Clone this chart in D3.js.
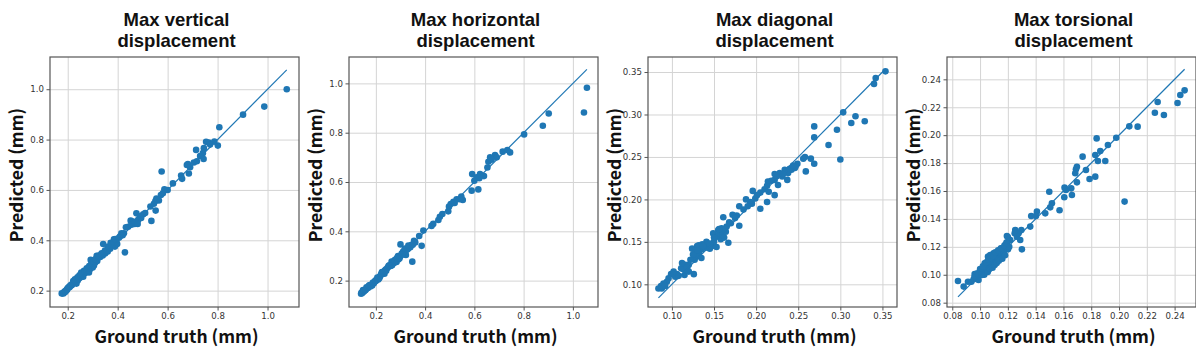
<!DOCTYPE html>
<html>
<head>
	<title>Predicted vs ground truth</title>
	<script src="https://cdn.jsdelivr.net/npm/d3@7"></script>
	<style type="text/css">
		body { margin: 0; background: white; }
		.tick text { font-family: "DejaVu Sans", sans-serif; font-size: 8.6px; fill: #333; }
		.tick line { stroke: #555; }
		.grid line { stroke: #d4d4d4; stroke-width: 1; }
		.grid path { display: none; }
		.label { font-family: "Noto Sans CJK KR", "Noto Sans", sans-serif; font-weight: bold; fill: #111; }
		.title { font-family: "Liberation Sans", Arial, sans-serif; font-weight: bold; fill: #111; }
	</style>
</head>
<body>

	<svg width=1196 height=356 class="chart"></svg>

	<script type="text/javascript">

		// panel titles (two lines each)
		titles = [
			['Max vertical', 'displacement'],
			['Max horizontal', 'displacement'],
			['Max diagonal', 'displacement'],
			['Max torsional', 'displacement']
		]

		// vertical displacement, ground truth / predicted (mm)
		vertTruth = [1.077,0.987,0.902,0.807,0.801,0.787,0.765,0.754,0.745,0.741,0.744,0.714,0.717,0.705,0.685,0.677,0.681,0.654,0.658,0.621,
			0.576,0.587,0.581,0.573,0.565,0.555,0.551,0.552,0.535,0.531,0.502,0.494,0.482,0.475,0.468,0.462,0.452,0.442,0.433,0.425,
			0.415,0.429,0.409,0.395,0.385,0.389,0.375,0.362,0.342,0.349,0.336,0.326,0.316,0.309,0.292,0.296,0.286,0.276,0.265,0.254,
			0.247,0.239,0.229,0.225,0.216,0.207,0.196,0.187,0.176,0.183,0.210,0.230,0.240,0.260,0.270,0.280,0.290,0.300,0.310,0.320,
			0.330,0.350,0.370,0.380,0.222,0.250,0.200,0.193,0.300,0.318,0.305,0.285,0.235,0.245,0.262,0.340,0.360,0.398,0.420,0.455,
			0.470,0.480,0.490,0.510,0.545,0.560,0.600,0.690,0.730,0.770,
			0.190,0.198,0.205,0.212,0.218,0.228,0.233,0.243,0.252,0.258,0.268,0.275,0.282,0.295,0.302,0.312,0.322,0.335,0.355,0.365,
			0.372,0.385,0.390,0.405]
		vertPred = [1.000,0.931,0.899,0.849,0.776,0.792,0.788,0.791,0.766,0.746,0.723,0.759,0.714,0.709,0.665,0.699,0.703,0.657,0.644,0.626,
			0.673,0.603,0.587,0.580,0.558,0.566,0.556,0.518,0.477,0.534,0.503,0.489,0.481,0.507,0.465,0.474,0.478,0.454,0.452,0.428,
			0.428,0.352,0.415,0.396,0.404,0.375,0.377,0.375,0.385,0.359,0.348,0.338,0.338,0.322,0.322,0.302,0.298,0.289,0.279,0.272,
			0.261,0.253,0.245,0.229,0.221,0.213,0.203,0.196,0.189,0.189,0.218,0.232,0.240,0.262,0.270,0.280,0.286,0.305,0.312,0.330,
			0.334,0.348,0.366,0.382,0.238,0.252,0.210,0.200,0.292,0.318,0.300,0.272,0.228,0.248,0.255,0.340,0.355,0.385,0.420,0.462,
			0.470,0.465,0.495,0.508,0.545,0.563,0.600,0.690,0.735,0.780,
			0.195,0.205,0.215,0.222,0.226,0.240,0.245,0.252,0.262,0.268,0.275,0.280,0.290,0.310,0.315,0.325,0.338,0.345,0.360,0.370,
			0.390,0.390,0.405,0.410]

		// horizontal displacement
		horizTruth = [1.057,1.045,0.902,0.878,0.802,0.745,0.734,0.715,0.684,0.691,0.664,0.657,0.653,0.639,0.623,0.609,0.591,0.589,0.616,0.553,
			0.547,0.528,0.515,0.504,0.497,0.494,0.460,0.454,0.433,0.426,0.393,0.386,0.376,0.355,0.348,0.345,0.336,0.300,0.325,0.311,
			0.322,0.298,0.291,0.284,0.264,0.260,0.246,0.237,0.230,0.216,0.203,0.192,0.176,0.162,0.148,0.140,0.145,0.150,0.155,0.160,
			0.165,0.170,0.180,0.185,0.195,0.210,0.220,0.225,0.235,0.240,0.250,0.270,0.280,0.290,0.305,0.315,0.330,0.340,0.360,0.600,
			0.620,0.670,0.540,0.520,0.470,0.142,0.152,0.158,0.168,0.175,0.200,0.232,0.255,0.275,
			0.172,0.178,0.188,0.198,0.206,0.214,0.222,0.232,0.242,0.252,0.266,0.276,0.286,0.296,0.308,0.318,0.332,0.350]
		horizPred = [0.982,0.882,0.878,0.828,0.793,0.720,0.730,0.723,0.709,0.700,0.700,0.682,0.659,0.624,0.632,0.619,0.632,0.565,0.570,0.527,
			0.541,0.530,0.520,0.511,0.500,0.481,0.459,0.446,0.430,0.422,0.403,0.341,0.381,0.362,0.277,0.345,0.335,0.347,0.324,0.318,
			0.304,0.297,0.286,0.276,0.277,0.259,0.250,0.241,0.230,0.216,0.203,0.189,0.182,0.173,0.162,0.147,0.150,0.155,0.160,0.165,
			0.170,0.175,0.182,0.180,0.195,0.205,0.222,0.235,0.228,0.245,0.255,0.270,0.285,0.300,0.310,0.320,0.328,0.335,0.355,0.605,
			0.615,0.690,0.530,0.515,0.470,0.152,0.158,0.162,0.170,0.178,0.198,0.236,0.262,0.272,
			0.180,0.176,0.192,0.200,0.212,0.210,0.228,0.236,0.240,0.260,0.262,0.282,0.292,0.290,0.305,0.330,0.342,0.345]

		// diagonal displacement
		diagTruth = [0.3536,0.342,0.340,0.3034,0.318,0.313,0.329,0.296,0.300,0.269,0.269,0.286,0.269,0.265,0.258,0.256,0.259,0.249,0.246,0.247,
			0.242,0.238,0.234,0.237,0.231,0.228,0.224,0.222,0.222,0.222,0.226,0.214,0.213,0.215,0.213,0.205,0.205,0.201,0.196,0.199,
			0.195,0.193,0.188,0.185,0.180,0.177,0.172,0.180,0.168,0.167,0.165,0.161,0.159,0.157,0.155,0.153,0.149,0.162,0.158,0.148,
			0.141,0.136,0.132,0.130,0.135,0.132,0.130,0.135,0.127,0.126,0.122,0.120,0.116,0.115,0.118,0.113,0.111,0.106,0.104,0.099,
			0.096,0.094,0.090,0.087,0.084,0.088,0.092,0.124,0.128,0.153,0.102,0.140,0.145,0.150,0.155,0.160,0.163,0.170,0.175,0.190,
			0.210,0.218,0.232,0.240,0.244,
			0.112,0.118,0.125,0.130,0.137,0.145,0.150,0.156,0.160,0.164,0.120,0.108]
		diagPred = [0.3508,0.343,0.336,0.3025,0.298,0.290,0.292,0.282,0.247,0.286,0.273,0.264,0.242,0.248,0.250,0.248,0.233,0.242,0.237,0.239,
			0.235,0.231,0.235,0.223,0.227,0.231,0.227,0.230,0.223,0.205,0.217,0.221,0.216,0.209,0.197,0.208,0.189,0.205,0.210,0.201,
			0.195,0.197,0.200,0.188,0.192,0.181,0.182,0.169,0.173,0.149,0.168,0.179,0.166,0.160,0.164,0.156,0.160,0.155,0.153,0.145,
			0.150,0.147,0.146,0.145,0.141,0.137,0.133,0.131,0.129,0.112,0.129,0.123,0.123,0.111,0.118,0.118,0.119,0.112,0.109,0.112,
			0.107,0.103,0.101,0.098,0.095,0.095,0.098,0.142,0.140,0.144,0.115,0.143,0.142,0.150,0.158,0.162,0.165,0.172,0.178,0.192,
			0.212,0.222,0.230,0.236,0.240,
			0.125,0.120,0.135,0.140,0.145,0.148,0.155,0.165,0.158,0.162,0.115,0.110]

		// torsional displacement
		torsTruth = [0.2472,0.2441,0.2421,0.2278,0.2258,0.2323,0.2134,0.2074,0.1980,0.2040,0.1920,0.1865,0.1839,0.1829,0.1848,0.1901,0.1829,0.1788,0.1762,0.1738,
			0.1697,0.1690,0.1685,0.1697,0.1661,0.1656,0.1618,0.1608,0.1606,0.1572,0.1517,0.1498,0.1505,0.1469,0.1409,0.1402,0.1368,0.1361,0.1297,0.1277,
			0.1301,0.1289,0.1253,0.1249,0.1265,0.1217,0.1193,0.1193,0.1201,0.1181,0.1157,0.1145,0.1133,0.1121,0.1109,0.1097,0.1085,0.1073,0.1061,0.1049,
			0.1037,0.1033,0.1018,0.1001,0.0989,0.0977,0.0961,0.0954,0.0937,0.0913,0.0882,0.0841,0.0989,0.1109,0.1133,0.1157,0.1085,0.1061,0.1013,0.1057,
			0.1097,0.1073,0.1040,0.1050,0.1065,0.1080,0.1100,0.1115,0.1125,0.1140,0.1150,0.1170,0.1185,0.1020,0.0995,0.0970,
			0.1000,0.1020,0.1030,0.1045,0.1055,0.1060,0.1070,0.1080,0.1090,0.1095,0.1105,0.1110,0.1120,0.1130,0.1135,0.1150,0.1160,0.1175,0.1180,0.1190,
			0.1200,0.1210,0.0960,0.0980,0.1010]
		torsPred = [0.2321,0.2288,0.2230,0.2238,0.2161,0.2144,0.2061,0.2063,0.1982,0.1524,0.1930,0.1887,0.1977,0.1858,0.1815,0.1815,0.1703,0.1686,0.1750,0.1846,
			0.1774,0.1755,0.1727,0.1662,0.1571,0.1619,0.1607,0.1624,0.1555,0.1462,0.1512,0.1595,0.1483,0.1440,0.1452,0.1421,0.1421,0.1345,0.1321,0.1297,
			0.1182,0.1249,0.1321,0.1297,0.1273,0.1249,0.1278,0.1230,0.1182,0.1213,0.1189,0.1165,0.1141,0.1125,0.1153,0.1106,0.1130,0.1082,0.1106,0.1070,
			0.1046,0.1082,0.1034,0.1015,0.0998,0.0974,0.1005,0.0967,0.0950,0.0950,0.0915,0.0955,0.0962,0.1082,0.1106,0.1141,0.1058,0.1034,0.0998,0.1130,
			0.1153,0.1141,0.1060,0.1075,0.1090,0.1095,0.1120,0.1100,0.1145,0.1155,0.1120,0.1160,0.1200,0.1050,0.1010,0.0985,
			0.1040,0.1060,0.1000,0.1090,0.1020,0.1110,0.1045,0.1120,0.1050,0.1135,0.1070,0.1160,0.1085,0.1175,0.1100,0.1190,0.1115,0.1210,0.1140,0.1230,
			0.1270,0.1200,0.0985,0.1010,0.1000]

		// axis limits and ticks per panel
		xLims = [[0.129, 1.126], [0.091, 1.102], [0.0716, 0.3673], [0.0762, 0.2554]]
		yLims = [[0.135, 1.128], [0.093, 1.107], [0.0733, 0.3677], [0.0769, 0.2560]]
		ticks = [
			[0.2, 0.4, 0.6, 0.8, 1.0],
			[0.2, 0.4, 0.6, 0.8, 1.0],
			[0.10, 0.15, 0.20, 0.25, 0.30, 0.35],
			[0.08, 0.10, 0.12, 0.14, 0.16, 0.18, 0.20, 0.22, 0.24]
		]
		tickFormats = ['.1f', '.1f', '.2f', '.2f']
		truths = [vertTruth, horizTruth, diagTruth, torsTruth]
		preds = [vertPred, horizPred, diagPred, torsPred]

		blue = '#1f77b4'
		svg = d3.select('.chart')

		panel_w = 249
		panel_h = 250
		top_y = 57

		titles.forEach(function(t, i) {
			var left = 50 + i * 299
			var g = svg.append('g').attr('transform', 'translate(' + left + ',' + top_y + ')')

			var x = d3.scaleLinear().domain(xLims[i]).range([0, panel_w])
			var y = d3.scaleLinear().domain(yLims[i]).range([panel_h, 0])
			var fmt = d3.format(tickFormats[i])

			// grid
			g.append('g').attr('class', 'grid')
				.attr('transform', 'translate(0,' + panel_h + ')')
				.call(d3.axisBottom(x).tickValues(ticks[i]).tickSize(-panel_h).tickFormat(''))
			g.append('g').attr('class', 'grid')
				.call(d3.axisLeft(y).tickValues(ticks[i]).tickSize(-panel_w).tickFormat(''))

			// points
			var pts = d3.zip(truths[i], preds[i])
			g.selectAll('.dot').data(pts).enter()
				.append('circle')
				.attr('class', 'dot')
				.attr('cx', function(d) { return x(d[0]) })
				.attr('cy', function(d) { return y(d[1]) })
				.attr('r', 3.3)
				.attr('fill', blue)

			// identity line over the truth range
			var ext = d3.extent(truths[i])
			g.append('line')
				.attr('x1', x(ext[0])).attr('y1', y(ext[0]))
				.attr('x2', x(ext[1])).attr('y2', y(ext[1]))
				.attr('stroke', blue).attr('stroke-width', 1.2)

			// axes
			var xa = g.append('g').attr('transform', 'translate(0,' + panel_h + ')')
				.call(d3.axisBottom(x).tickValues(ticks[i]).tickFormat(fmt).tickSize(3.5).tickPadding(2.5))
			var ya = g.append('g')
				.call(d3.axisLeft(y).tickValues(ticks[i]).tickFormat(fmt).tickSize(3.5).tickPadding(2.5))
			xa.select('.domain').remove()
			ya.select('.domain').remove()

			// spines
			g.append('rect')
				.attr('width', panel_w).attr('height', panel_h)
				.attr('fill', 'none').attr('stroke', '#555').attr('stroke-width', 1.2)

			// title, two lines
			var cx = panel_w / 2 + 2
			var title = g.append('text').attr('class', 'title')
				.attr('text-anchor', 'middle').style('font-size', '18.5px')
			title.append('tspan').attr('x', cx).attr('y', 26 - top_y).text(t[0])
			title.append('tspan').attr('x', cx).attr('y', 47 - top_y).text(t[1])

			g.append('text').attr('class', 'label')
				.attr('x', cx).attr('y', 342.5 - top_y)
				.attr('text-anchor', 'middle').style('font-size', '17.5px')
				.text('Ground truth (mm)')
			g.append('text').attr('class', 'label')
				.attr('transform', 'translate(' + (22.5 - 50) + ',' + (175 - top_y) + ') rotate(-90)')
				.attr('text-anchor', 'middle').style('font-size', '17.5px')
				.text('Predicted (mm)')
		})

	</script>

</body>
</html>
